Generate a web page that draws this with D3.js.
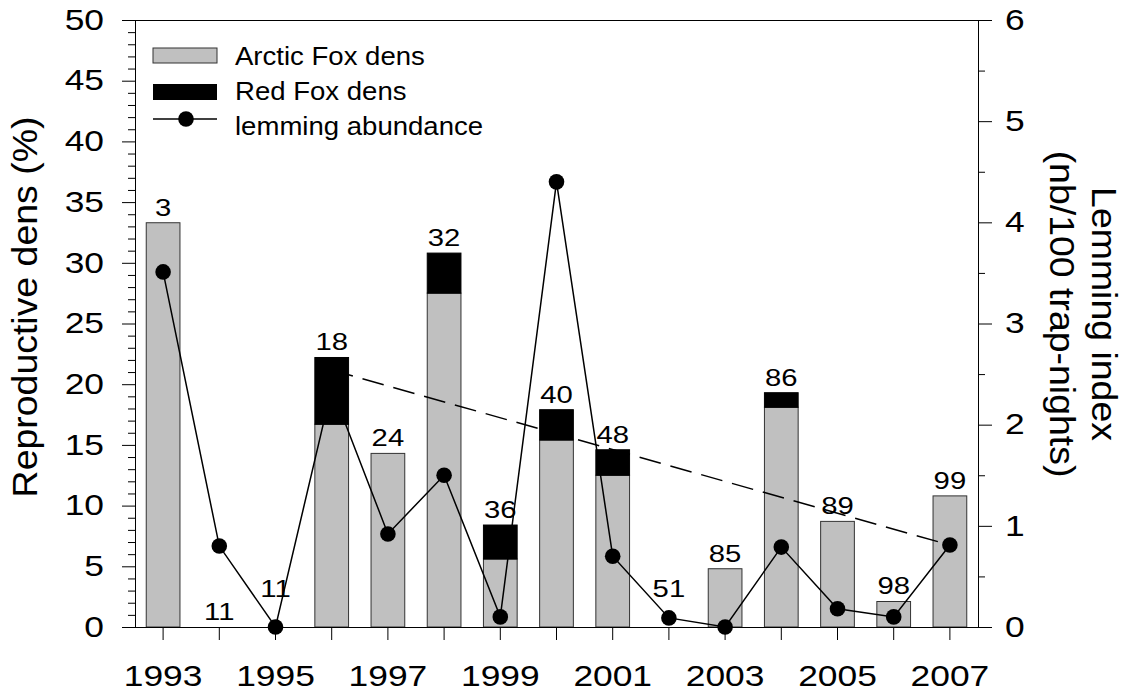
<!DOCTYPE html>
<html>
<head>
<meta charset="utf-8">
<script src="https://cdn.jsdelivr.net/npm/d3@7"></script>
<style>
body { margin: 0; background: #fff; }
text { font-family: "Liberation Sans", Arial, sans-serif; fill: #000; }
</style>
</head>
<body>
<div id="chart"></div>
<script>
var years = [1993, 1994, 1995, 1996, 1997, 1998, 1999, 2000, 2001, 2002, 2003, 2004, 2005, 2006, 2007];
var arcticFox = [33.3, 0, 0, 16.7, 14.3, 27.5, 5.6, 15.4, 12.5, 0, 4.8, 18.1, 8.7, 2.1, 10.8];
var redFox = [0, 0, 0, 5.5, 0, 3.3, 2.8, 2.5, 2.1, 0, 0, 1.2, 0, 0, 0];
var denCounts = ["3", "11", "11", "18", "24", "32", "36", "40", "48", "51", "85", "86", "89", "98", "99"];
var lemming = [3.51, 0.80, 0, 2.36, 0.92, 1.50, 0.10, 4.40, 0.70, 0.09, 0, 0.79, 0.18, 0.10, 0.81];
var trendYears = [1996, 2007];
var trendValues = [2.54, 0.81];
var leftTicks = [0, 5, 10, 15, 20, 25, 30, 35, 40, 45, 50];
var rightTicks = [0, 1, 2, 3, 4, 5, 6];
var xTickLabels = [1993, 1995, 1997, 1999, 2001, 2003, 2005, 2007];

var margin = { top: 20, right: 147, bottom: 65, left: 135 },
    width = 1125 - margin.left - margin.right,
    height = 692 - margin.top - margin.bottom;

var font = '"Liberation Sans", Arial, sans-serif';

// the source font is wider than Arial, so text gets a small horizontal stretch
function stretch(sel, k) {
    sel.each(function () {
        var t = d3.select(this);
        var x = +t.attr("x") || 0;
        t.attr("x", x / k).attr("transform", "scale(" + k + ",1)");
    });
}

var x = d3.scaleBand().domain(years).range([0, width]).paddingInner(0.4).paddingOuter(0.2);
var y = d3.scaleLinear().domain([0, 50]).range([height, 0]);
var y2 = d3.scaleLinear().domain([0, 6]).range([height, 0]);

var svg = d3.select("#chart").append("svg")
    .attr("width", 1125)
    .attr("height", 692);

var g = svg.append("g")
    .attr("transform", "translate(" + margin.left + "," + margin.top + ")");

var rows = years.map(function (d, i) {
    return { year: d, arctic: arcticFox[i], red: redFox[i], label: denCounts[i], lem: lemming[i] };
});

// arctic fox bars
g.selectAll(".arctic")
    .data(rows.filter(function (d) { return d.arctic > 0; }))
    .enter().append("rect")
    .attr("class", "arctic")
    .attr("x", function (d) { return x(d.year); })
    .attr("y", function (d) { return y(d.arctic); })
    .attr("width", x.bandwidth())
    .attr("height", function (d) { return height - y(d.arctic); })
    .style("fill", "#c0c0c0")
    .style("stroke", "#333")
    .style("stroke-width", 1);

// red fox stacked on top
g.selectAll(".red")
    .data(rows.filter(function (d) { return d.red > 0; }))
    .enter().append("rect")
    .attr("class", "red")
    .attr("x", function (d) { return x(d.year); })
    .attr("y", function (d) { return y(d.arctic + d.red); })
    .attr("width", x.bandwidth())
    .attr("height", function (d) { return y(d.arctic) - y(d.arctic + d.red); })
    .style("fill", "#000")
    .style("stroke", "#000")
    .style("stroke-width", 1);

var cx = function (yr) { return x(yr) + x.bandwidth() / 2; };

// dashed trend line
g.append("path")
    .datum(trendYears.map(function (d, i) { return [d, trendValues[i]]; }))
    .attr("d", d3.line()
        .x(function (d) { return cx(d[0]); })
        .y(function (d) { return y2(d[1]); }))
    .style("fill", "none")
    .style("stroke", "#000")
    .style("stroke-width", 1.5)
    .style("stroke-dasharray", "22,10");

// lemming line
g.append("path")
    .datum(rows)
    .attr("d", d3.line()
        .x(function (d) { return cx(d.year); })
        .y(function (d) { return y2(d.lem); }))
    .style("fill", "none")
    .style("stroke", "#000")
    .style("stroke-width", 1.5);

g.selectAll(".dot")
    .data(rows)
    .enter().append("circle")
    .attr("class", "dot")
    .attr("cx", function (d) { return cx(d.year); })
    .attr("cy", function (d) { return y2(d.lem); })
    .attr("r", 7.8)
    .style("fill", "#000");

// number of dens above the bars
var labels = g.selectAll(".cnt")
    .data(rows)
    .enter().append("text")
    .attr("class", "cnt")
    .attr("x", function (d) { return cx(d.year); })
    .attr("y", function (d) {
        var total = d.arctic + d.red;
        if (total === 0 && d.lem < 0.3) return height - 30;
        return y(total) - 7;
    })
    .attr("text-anchor", "middle")
    .style("font-size", "24px")
    .text(function (d) { return d.label; });
stretch(labels, 1.22);

// left axis
var yAxis = g.append("g")
    .call(d3.axisLeft(y).tickValues(leftTicks).tickSize(13).tickPadding(18).tickSizeOuter(0))
    .attr("font-size", 29).attr("font-family", font);
g.append("g")
    .call(d3.axisLeft(y).tickValues(d3.range(0, 51).filter(function (d) { return d % 5; }))
        .tickSize(7).tickFormat("").tickSizeOuter(0))
    .select(".domain").remove();

// right axis
var y2Axis = g.append("g")
    .attr("transform", "translate(" + width + ",0)")
    .call(d3.axisRight(y2).tickValues(rightTicks).tickFormat(d3.format("d"))
        .tickSize(14).tickPadding(13).tickSizeOuter(0))
    .attr("font-size", 29).attr("font-family", font);
g.append("g")
    .attr("transform", "translate(" + width + ",0)")
    .call(d3.axisRight(y2).tickValues([0.5, 1.5, 2.5, 3.5, 4.5, 5.5]).tickSize(7).tickFormat("").tickSizeOuter(0))
    .select(".domain").remove();

// bottom axis
var xAxis = g.append("g")
    .attr("transform", "translate(0," + height + ")")
    .call(d3.axisBottom(x).tickSize(13).tickPadding(25).tickSizeOuter(0)
        .tickFormat(function (d) { return xTickLabels.indexOf(d) >= 0 ? d : ""; }))
    .attr("font-size", 29).attr("font-family", font);

// extend bottom line across the full plot width
xAxis.select(".domain").attr("d", "M0,0.5H" + width);

// top frame line
g.append("line")
    .attr("x1", 0).attr("x2", width)
    .attr("y1", 0.5).attr("y2", 0.5)
    .style("stroke", "#000");

stretch(yAxis.selectAll("text"), 1.22);
stretch(y2Axis.selectAll("text"), 1.22);
stretch(xAxis.selectAll("text"), 1.22);

// axis titles
svg.append("text")
    .attr("transform", "translate(37,307) rotate(-90) scale(1.07,1)")
    .attr("text-anchor", "middle")
    .style("font-size", "35px")
    .text("Reproductive dens (%)");

svg.append("text")
    .attr("transform", "translate(1092,314) rotate(90) scale(1.07,1)")
    .attr("text-anchor", "middle")
    .style("font-size", "35px")
    .text("Lemming index");

svg.append("text")
    .attr("transform", "translate(1050,314) rotate(90) scale(1.07,1)")
    .attr("text-anchor", "middle")
    .style("font-size", "35px")
    .text("(nb/100 trap-nights)");

// legend
var legend = svg.append("g").attr("transform", "translate(153,0)");
legend.append("rect")
    .attr("x", 0).attr("y", 48).attr("width", 64).attr("height", 15)
    .style("fill", "#c0c0c0").style("stroke", "#333");
legend.append("rect")
    .attr("x", 0).attr("y", 84).attr("width", 64).attr("height", 16)
    .style("fill", "#000");
legend.append("line")
    .attr("x1", 0).attr("x2", 64).attr("y1", 119).attr("y2", 119)
    .style("stroke", "#000").style("stroke-width", 1.5);
legend.append("circle")
    .attr("cx", 33).attr("cy", 119).attr("r", 7.8)
    .style("fill", "#000");

var legText = legend.selectAll(".lt")
    .data(["Arctic Fox dens", "Red Fox dens", "lemming abundance"])
    .enter().append("text")
    .attr("class", "lt")
    .attr("x", 82)
    .attr("y", function (d, i) { return 65 + i * 35; })
    .style("font-size", "26px")
    .text(function (d) { return d; });
stretch(legText, 1.06);
</script>
</body>
</html>
